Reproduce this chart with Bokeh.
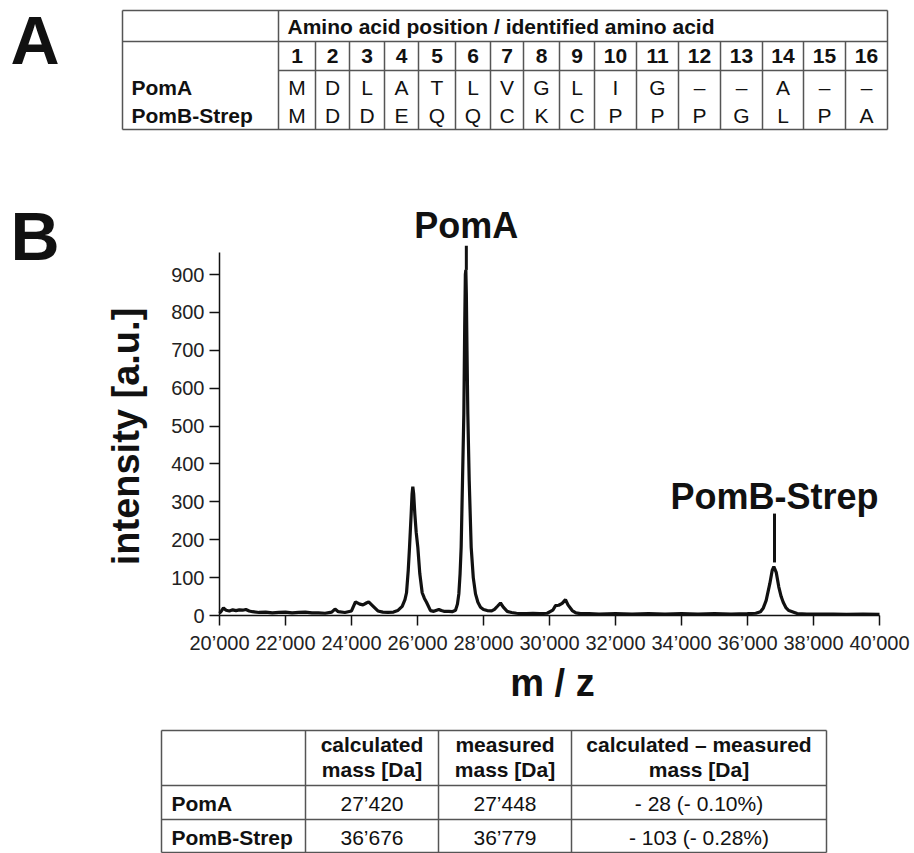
import math
from bokeh.plotting import figure
from bokeh.models import Range1d, FixedTicker, LinearAxis
from bokeh.core.properties import value
from bokeh.embed import file_html
from bokeh.resources import INLINE

FONT = "Liberation Sans"
INK = "#111111"
RULE = "#555555"

# ---------------- data ----------------
positions = [str(i) for i in range(1, 17)]
poma_seq = ["M", "D", "L", "A", "T", "L", "V", "G", "L", "I", "G", "–", "–", "A", "–", "–"]
pomb_seq = ["M", "D", "D", "E", "Q", "Q", "C", "K", "C", "P", "P", "P", "G", "L", "P", "A"]
seq_names = ["PomA", "PomB-Strep"]
table_a_header = "Amino acid position / identified amino acid"

mz = [20000, 20060, 20120, 20200, 20300, 20400, 20500, 20600, 20700, 20800, 20900, 21000,
      21200, 21400, 21600, 21800, 22000, 22200, 22400, 22600, 22800, 23000, 23200, 23400,
      23500, 23600, 23800, 24000, 24120, 24250, 24350, 24450, 24520, 24650, 24800, 24950,
      25100, 25273, 25400, 25536, 25620, 25667, 25720, 25758, 25808, 25835, 25858, 25885,
      25919, 25960, 26010, 26070, 26142, 26210, 26273, 26394, 26494, 26580, 26646, 26720,
      26800, 26949, 27050, 27152, 27210, 27253, 27290, 27323, 27364, 27404, 27430, 27450,
      27465, 27480, 27500, 27525, 27567, 27627, 27690, 27758, 27830, 27909, 28000, 28112,
      28250, 28333, 28430, 28515, 28600, 28718, 28850, 29000, 29121, 29300, 29500, 29700,
      29929, 30100, 30182, 30280, 30384, 30485, 30560, 30688, 30800, 30940, 31200, 31500,
      32000, 32500, 33000, 33500, 34000, 34500, 35000, 35500, 36000, 36250, 36394, 36480,
      36566, 36676, 36748, 36798, 36870, 36949, 37020, 37082, 37170, 37252, 37506, 37800,
      38200, 38600, 39000, 39500, 40000]
intensity = [6, 12, 20, 14, 12, 15, 13, 15, 14, 16, 12, 10,
             8, 9, 7, 8, 9, 7, 8, 9, 7, 7, 6, 9,
             17, 10, 8, 12, 36, 30, 28, 33, 36, 25, 12, 9,
             8, 9, 13, 24, 42, 60, 120, 180, 268, 320, 340, 320,
             268, 220, 180, 110, 60, 45, 35, 13, 11, 14, 16, 13,
             11, 11, 10, 14, 30, 57, 110, 180, 356, 532, 760, 900,
             912, 850, 700, 532, 356, 180, 100, 57, 35, 22, 16, 13,
             12, 16, 25, 33, 22, 11, 8, 6, 5, 5, 6, 5,
             6, 14, 26, 27, 32, 42, 28, 13, 7, 5, 5, 4,
             5, 4, 5, 4, 5, 4, 5, 4, 5, 6, 10, 20,
             40, 84, 119, 129, 114, 75, 50, 35, 20, 13, 5, 4,
             4, 4, 3, 4, 3]

peak_names = ["PomA", "PomB-Strep"]
peak_mz = [27480, 36818]
peak_top = [912, 140]

x_ticks = [20000, 22000, 24000, 26000, 28000, 30000, 32000, 34000, 36000, 38000, 40000]
x_tick_labels = ["20’000", "22’000", "24’000", "26’000", "28’000", "30’000",
                 "32’000", "34’000", "36’000", "38’000", "40’000"]
y_ticks = [0, 100, 200, 300, 400, 500, 600, 700, 800, 900]
x_title = "m / z"
y_title = "intensity [a.u.]"

mass_header_1 = ["calculated", "measured", "calculated – measured"]
mass_header_2 = ["mass [Da]", "mass [Da]", "mass [Da]"]
proteins = ["PomA", "PomB-Strep"]
calc_mass = ["27’420", "36’676"]
meas_mass = ["27’448", "36’779"]
mass_diff = ["- 28 (- 0.10%)", "- 103 (- 0.28%)"]

# ---------------- canvas (page pixel coordinates) ----------------
W, H = 914, 853
p = figure(width=W, height=H, x_range=Range1d(0, W), y_range=Range1d(H, 0),
           x_axis_location=None, y_axis_location=None, toolbar_location=None,
           output_backend="svg", min_border=0, outline_line_color=None)
p.grid.visible = False
p.background_fill_color = "white"
p.border_fill_color = "white"

# spectrum scales: 20000 -> x 219, 40000 -> x 879 ; 0 -> y 615, 900 -> y 274
PX_PER_DA = 660 / 20000
PX_PER_UNIT = 341 / 900
mz0 = 20000 - 219 / PX_PER_DA
i0 = -(H - 615) / PX_PER_UNIT
p.extra_x_ranges = {"mz": Range1d(mz0, mz0 + W / PX_PER_DA)}
p.extra_y_ranges = {"inten": Range1d(i0, i0 + H / PX_PER_UNIT)}

MID = 0.35  # em offset between alphabetic baseline and the middle of the em box


def txt(xs, base, texts, size, bold=False, align="center", angle=0, shift=None, **kw):
    """Text placed by its alphabetic baseline (page pixels, y downward)."""
    off = MID * size if shift is None else shift
    ys = [b - off for b in base]
    p.text(x=xs, y=ys, text=texts, text_font=value(FONT), text_font_size=f"{size}px",
           text_font_style="bold" if bold else "normal", text_align=align,
           text_baseline="middle", text_color=INK, angle=angle, **kw)


# ---------------- panel A: sequence table ----------------
txt([10], [63], ["A"], 68, bold=True, align="left")
edges = [278, 315, 349, 384, 418, 455, 490, 523, 559, 594, 636, 678, 720, 762, 803, 845, 887]
L, R, T, B = 122, 887, 10, 129
inner = edges[1:-1]
p.segment(x0=[L, L, L, R, L, 278, 278] + inner,
          y0=[T, B, T, T, 41, 70, T] + [41] * len(inner),
          x1=[R, R, L, R, R, R, 278] + inner,
          y1=[T, B, B, B, 41, 70, B] + [B] * len(inner),
          line_color=RULE, line_width=1.5)
centers = [(edges[i] + edges[i + 1]) / 2 for i in range(len(edges) - 1)]
txt([287], [33.3], [table_a_header], 21, bold=True, align="left")
txt(centers, [63.3] * 16, positions, 21, bold=True)
txt(centers, [94] * 16, poma_seq, 21)
txt(centers, [122] * 16, pomb_seq, 21)
txt([131, 131], [94, 122], seq_names, 21, bold=True, align="left")

# ---------------- panel B: spectrum ----------------
txt([10], [259], ["B"], 68, bold=True, align="left")
p.line(mz, intensity, line_width=3.2, line_color=INK, x_range_name="mz", y_range_name="inten")
p.segment(x0=peak_mz, y0=[976, 269], x1=peak_mz, y1=peak_top, line_color=INK, line_width=3,
          x_range_name="mz", y_range_name="inten")
txt(peak_mz, [995, 282], peak_names, 36, bold=True, shift=MID * 36 / PX_PER_UNIT * -1,
    x_range_name="mz", y_range_name="inten")

xax = LinearAxis(x_range_name="mz", y_range_name="inten", fixed_location=0,
                 bounds=(20000, 40000), ticker=FixedTicker(ticks=x_ticks),
                 major_label_overrides={t: s for t, s in zip(x_ticks, x_tick_labels)})
yax = LinearAxis(x_range_name="mz", y_range_name="inten", fixed_location=20000,
                 bounds=(0, 958), ticker=FixedTicker(ticks=y_ticks))
for ax in (xax, yax):
    ax.axis_line_color = INK
    ax.axis_line_width = 1.5
    ax.major_tick_line_color = INK
    ax.major_tick_line_width = 1.5
    ax.major_tick_out = 10
    ax.major_tick_in = 0
    ax.minor_tick_line_color = None
    ax.major_label_text_font = FONT
    ax.major_label_text_font_size = "20px"
    ax.major_label_text_color = "#222222"
xax.major_label_standoff = 6
yax.major_label_standoff = 5
p.add_layout(xax, "below")
p.add_layout(yax, "left")

txt([552], [696], [x_title], 38, bold=True)
p.text(x=[125], y=[436], text=[y_title], text_font=value(FONT), text_font_size="38px",
       text_font_style="bold", text_align="center", text_baseline="middle",
       text_color=INK, angle=math.pi / 2)

# ---------------- mass table ----------------
bx = [161, 305, 438, 571, 826]
bt, b1, b2, bb = 730, 785, 819, 852
p.segment(x0=[bx[0]] * 4 + [bx[0], bx[-1]] + bx[1:-1],
          y0=[bt, b1, b2, bb] + [bt, bt] + [bt] * 3,
          x1=[bx[-1]] * 4 + [bx[0], bx[-1]] + bx[1:-1],
          y1=[bt, b1, b2, bb] + [bb, bb] + [bb] * 3,
          line_color=RULE, line_width=1.5)
mc = [(bx[i] + bx[i + 1]) / 2 for i in range(1, 4)]
txt(mc, [751.7] * 3, mass_header_1, 21, bold=True)
txt(mc, [776.7] * 3, mass_header_2, 21, bold=True)
txt([171, 171], [810.7, 844], proteins, 21, bold=True, align="left")
txt([mc[0]] * 2, [810.7, 844], calc_mass, 21)
txt([mc[1]] * 2, [810.7, 844], meas_mass, 21)
txt([mc[2]] * 2, [810.7, 844], mass_diff, 21)

open("out.html", "w").write(file_html(p, INLINE))
